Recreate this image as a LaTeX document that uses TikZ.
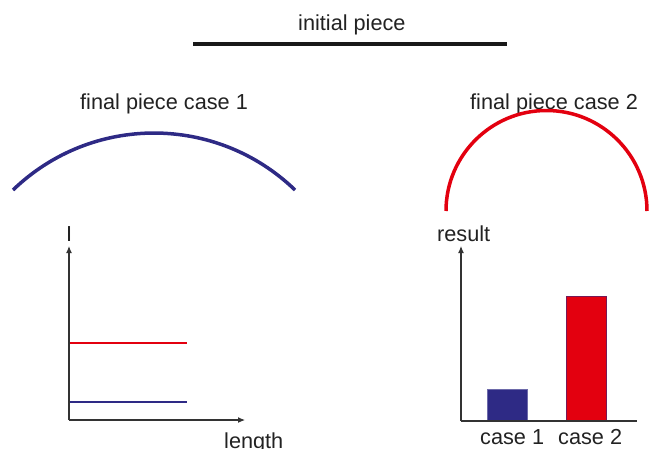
\documentclass[tikz,border=0pt]{standalone}
\usepackage{fontspec}
\setmainfont{Liberation Sans}
\usetikzlibrary{arrows.meta}
\definecolor{navy}{HTML}{2E2A85}
\definecolor{pred}{HTML}{E3000F}
\definecolor{txt}{HTML}{222222}
\definecolor{axis}{HTML}{333333}
\begin{document}
\begin{tikzpicture}[x={(1pt,0)},y={(0,-1pt)},
  lbl/.style={anchor=base west,inner sep=0pt,text=txt,font=\fontsize{21.7}{26}\selectfont},
  axisline/.style={draw=axis,line width=1.1pt},
  axarrow/.style={axisline,-{Latex[length=7pt,width=6pt]}},
  level/.style={line width=2pt},
  piece/.style={line width=3.5pt},
  bar/.style={line width=0.6pt}]
\useasboundingbox (0,0) rectangle (662,448);
% initial piece
\node[lbl] (tinit) at (298,30) {initial piece};
\coordinate (ia) at (193,44);
\coordinate (ib) at (507,44);
\draw[piece,black!90] (ia) -- (ib);
% case 1 arc
\node[lbl] (tc1) at (80,109) {final piece case 1};
\coordinate (c1s) at (13,190);
\draw[piece,navy] (c1s) arc[start angle=226,end angle=314,radius=203];
% case 2 arc
\node[lbl] (tc2) at (470,109) {final piece case 2};
\coordinate (c2s) at (446,211);
\draw[piece,pred] (c2s) arc[start angle=180,end angle=360,radius=100.5];
% left chart
\coordinate (lo) at (69,420);
\coordinate (ly) at (69,246);
\coordinate (lx) at (245,420);
\coordinate (r1) at (69,343);
\coordinate (r2) at (187,343);
\coordinate (b1) at (69,402);
\coordinate (b2) at (187,402);
\draw[level,pred] (r1) -- (r2);
\draw[level,navy] (b1) -- (b2);
\draw[axarrow] (lo) -- (ly);
\draw[axarrow] (lo) -- (lx);
\node[lbl] (tI) at (66,241) {I};
\node[lbl] (tlen) at (224,448.5) {length};
% right chart
\coordinate (ro) at (461,421);
\coordinate (ry) at (461,246);
\coordinate (rx) at (637,421);
\draw[bar,fill=navy,draw=navy!70] (487,421) rectangle (527,389);
\draw[bar,fill=pred,draw=navy!60!pred] (566,421) rectangle (606,296);
\draw[axarrow] (ro) -- (ry);
\draw[axisline] (ro) -- (rx);
\node[lbl] (tres) at (437,241) {result};
\node[lbl] (tca1) at (480,444.5) {case 1};
\node[lbl] (tca2) at (558,444.5) {case 2};
\end{tikzpicture}
\end{document}
